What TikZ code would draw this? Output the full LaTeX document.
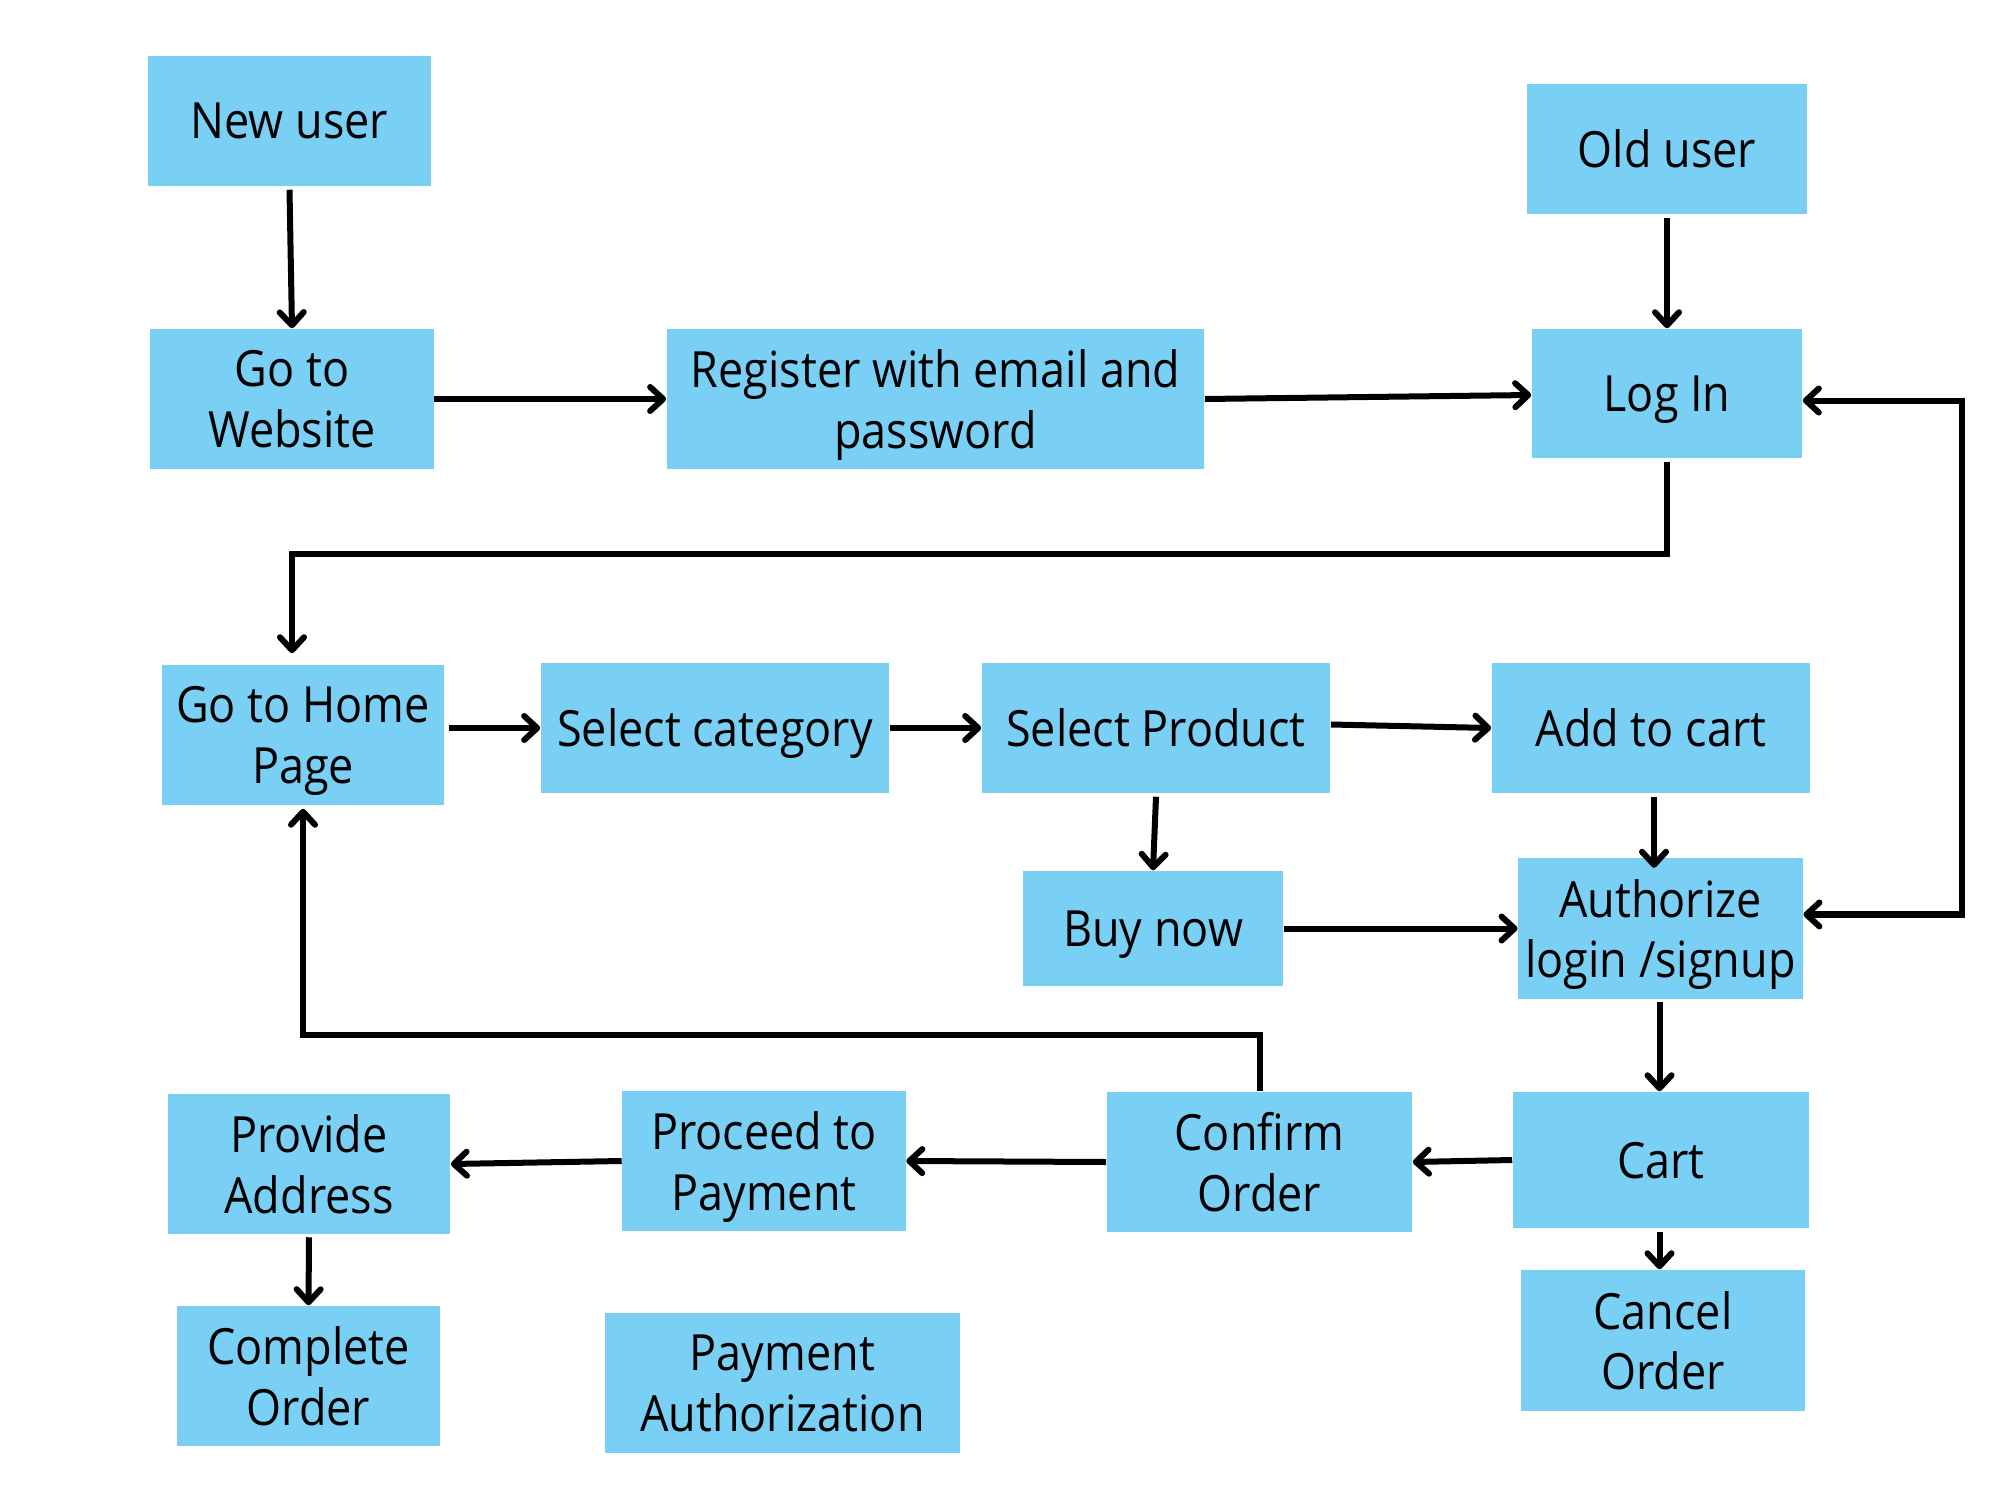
\documentclass[tikz,border=0pt]{standalone}
\usepackage{fontspec}
\setmainfont[FakeStretch=0.9]{Open Sans}
\usetikzlibrary{arrows.meta}
\definecolor{boxblue}{RGB}{122,207,244}
\tikzset{
  box/.style={fill=boxblue, draw=none, inner sep=2pt, align=center, text=black,
    text depth=0pt, font=\fontsize{14.2}{17.3}\selectfont},
  tip/.tip={Straight Barb[length=1.3mm,width=2.4mm,line cap=round,line join=round]},
  arr/.style={line width=0.6mm, draw=black, -tip},
  arrboth/.style={line width=0.6mm, draw=black, tip-tip},
}
\begin{document}
\begin{tikzpicture}[x=0.01cm,y=-0.01cm]
\fill[white] (0,0) rectangle (2000,1500);
\useasboundingbox (0,0) rectangle (2000,1500);

\node[box, minimum width=2.83cm, minimum height=1.30cm] (newu) at (289.5,121) {New user};
\node[box, minimum width=2.80cm, minimum height=1.30cm] (oldu) at (1667,149) {Old user};
\node[box, minimum width=2.83cm, minimum height=1.40cm] (web) at (292,399) {Go to\\Website};
\node[box, minimum width=5.37cm, minimum height=1.40cm] (reg) at (935.5,399) {Register with email and\\password};
\node[box, minimum width=2.70cm, minimum height=1.29cm] (login) at (1667,393.5) {Log In};
\node[box, minimum width=2.82cm, minimum height=1.40cm] (home) at (303,735) {Go to Home\\Page};
\node[box, minimum width=3.48cm, minimum height=1.30cm] (cat) at (715,728) {Select category};
\node[box, minimum width=3.48cm, minimum height=1.30cm] (prod) at (1156,728) {Select Product};
\node[box, minimum width=3.18cm, minimum height=1.30cm] (addc) at (1651,728) {Add to cart};
\node[box, minimum width=2.60cm, minimum height=1.15cm] (buy) at (1153,928.5) {Buy now};
\node[box, minimum width=2.83cm, minimum height=1.40cm] (auth) at (1660.5,928.5) {Authorize\\login /signup};
\node[box, minimum width=2.82cm, minimum height=1.39cm] (prov) at (309,1164) {Provide\\Address};
\node[box, minimum width=2.83cm, minimum height=1.40cm] (proc) at (764,1161) {Proceed to\\Payment};
\node[box, minimum width=3.05cm, minimum height=1.40cm] (conf) at (1259.5,1162) {Confirm\\Order};
\node[box, minimum width=2.96cm, minimum height=1.36cm] (cartn) at (1661,1160) {Cart};
\node[box, minimum width=2.83cm, minimum height=1.41cm] (cancel) at (1663,1340.5) {Cancel\\Order};
\node[box, minimum width=2.63cm, minimum height=1.40cm] (comp) at (308.5,1376) {Complete\\Order};
\node[box, minimum width=3.55cm, minimum height=1.40cm] (pay) at (782.5,1383) {Payment\\Authorization};

\coordinate (lh) at (292,553.6);
\coordinate (rc) at (1962,660);
\coordinate (cb) at (303,1034.5);

\draw[arr] ([yshift=-0.03cm]newu.south) -- (web.north);
\draw[arr] (web.east) -- (reg.west);
\draw[arr] (reg.east) -- ([yshift=-0.015cm]login.west);
\draw[arr] ([yshift=-0.03cm]oldu.south) -- (login.north);
\draw[arr] ([yshift=-0.03cm]login.south) |- (lh) -- ([yshift=0.11cm]lh |- home.north);
\draw[arr] ([xshift=0.04cm]home.east |- cat.west) -- (cat.west);
\draw[arr] (cat.east) -- (prod.west);
\draw[arr] ([yshift=0.035cm]prod.east) -- (addc.west);
\draw[arr] ([yshift=-0.03cm]prod.south) -- (buy.north);
\draw[arr] ([xshift=0.03cm,yshift=-0.03cm]addc.south) -- ([xshift=0.03cm,yshift=-0.1cm]addc.south |- auth.north);
\draw[arr] (buy.east) -- (auth.west);
\draw[arrboth] ([yshift=-0.07cm]login.east) -| (rc) |- ([yshift=0.14cm]auth.east);
\draw[arr] ([xshift=-0.01cm,yshift=-0.03cm]auth.south) -- ([xshift=-0.01cm]auth.south |- cartn.north);
\draw[arr] (cartn.west) -- (conf.east);
\draw[arr] (conf.west) -- (proc.east);
\draw[arr] (proc.west) -- (prov.east);
\draw[arr] ([yshift=-0.03cm]prov.south) -- (comp.north);
\draw[arr] ([xshift=-0.015cm,yshift=-0.03cm]cartn.south) -- ([xshift=-0.015cm]cartn.south |- cancel.north);
\draw[arr] (conf.north) |- (cb) -- ([yshift=-0.03cm]home.south);
\end{tikzpicture}
\end{document}
